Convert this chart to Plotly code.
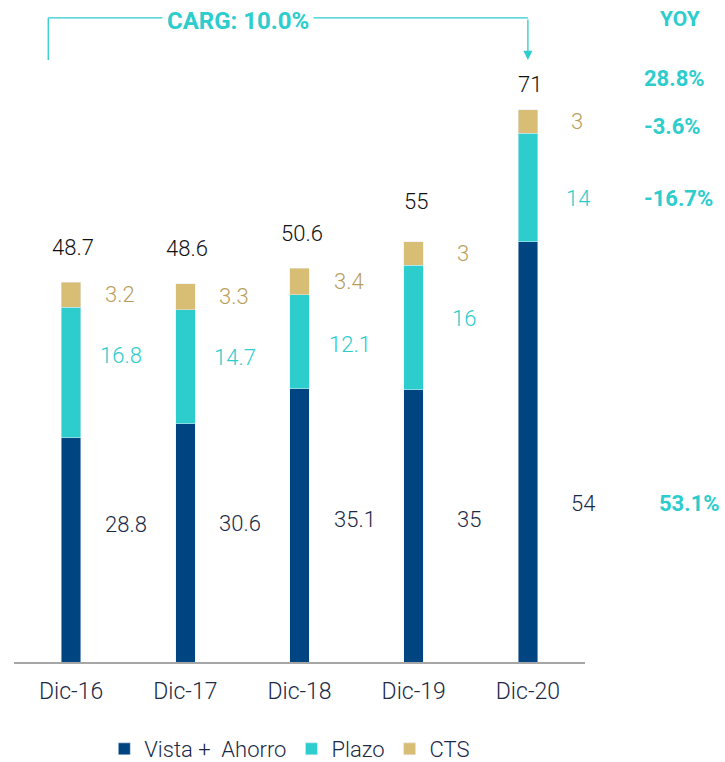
import plotly.graph_objects as go

categories = ["Dic-16", "Dic-17", "Dic-18", "Dic-19", "Dic-20"]
vista_ahorro = [28.8, 30.6, 35.1, 35, 54]
plazo = [16.8, 14.7, 12.1, 16, 14]
cts = [3.2, 3.3, 3.4, 3, 3]
totals = [48.7, 48.6, 50.6, 55, 71]
yoy_labels = ["53.1%", "-16.7%", "-3.6%", "28.8%"]  # vista, plazo, cts, total
carg_label = "CARG: 10.0%"

navy = "#004481"
cyan = "#2DCCCD"
gold = "#D8BE75"
font = "Roboto"

fig = go.Figure()
fig.add_bar(x=categories, y=vista_ahorro, name="Vista +\u00a0 Ahorro", marker_color=navy, width=0.17)
fig.add_bar(x=categories, y=plazo, name="Plazo", marker_color=cyan, width=0.17)
fig.add_bar(x=categories, y=cts, name="CTS", marker_color=gold, width=0.17)

ann = []
label_y = []
for i, c in enumerate(categories):
    v, p, s, t = vista_ahorro[i], plazo[i], cts[i], totals[i]
    yv = 14.5 + 0.11 * v
    yp = v + p - (0.1 * t + 1.3)
    ys = v + p + s / 2
    yt = 0.94 * t + 7.5
    label_y.append((yv, yp, ys, yt))
    ann.append(dict(x=c, y=yv, text=f"{v:g}", showarrow=False, xshift=55,
                    font=dict(color="#1b2a47", size=22)))
    ann.append(dict(x=c, y=yp, text=f"{p:g}", showarrow=False, xshift=50,
                    font=dict(color=cyan, size=22)))
    ann.append(dict(x=c, y=ys, text=f"{s:g}", showarrow=False, xshift=49,
                    font=dict(color="#B89D5C", size=22)))
    ann.append(dict(x=c, y=yt, text=f"{t:g}", showarrow=False, xshift=2,
                    font=dict(color="#111111", size=22)))

# YOY column, aligned with the last bar's labels
yv, yp, ys, yt = label_y[-1]
yoy_y = [yv, yp, ys - 0.6, yt + 0.8]
for k, (txt, yy) in enumerate(zip(yoy_labels, yoy_y)):
    ann.append(dict(xref="paper", x=1.1, xanchor="left", y=yy, text=f"<b>{txt}</b>",
                    xshift=15 if k == 0 else 0,
                    showarrow=False, font=dict(color=cyan, size=22)))
ann.append(dict(xref="paper", x=1.166, xanchor="center", y=82.6, text="<b>YOY</b>",
                showarrow=False, font=dict(color=cyan, size=21)))

# CARG bracket
last = categories[-1]
ann.append(dict(x=last, y=77.4, ax=last, ay=82.8,
                axref="x", ayref="y", text="", showarrow=True, arrowhead=2,
                arrowsize=1.4, arrowwidth=1.3, arrowcolor=cyan, standoff=0))
ann.append(dict(x=1.46, y=82.8, yshift=-3, text=f"<b>{carg_label}</b>", showarrow=False,
                bgcolor="white", borderpad=4, font=dict(color=cyan, size=24)))

shapes = [
    dict(type="line", x0=-0.2, x1=-0.2, y0=77.4, y1=82.8, line=dict(color=cyan, width=1.3)),
    dict(type="line", x0=-0.2, x1=4, y0=82.8, y1=82.8, line=dict(color=cyan, width=1.3), layer="below"),
]

fig.update_layout(
    barmode="stack",
    width=725, height=762,
    margin=dict(l=14, r=140, t=0, b=100),
    plot_bgcolor="white", paper_bgcolor="white",
    font=dict(family=font, size=22, color="#1b2a47", weight=300),
    annotations=ann,
    shapes=shapes,
    legend=dict(orientation="h", x=0.483, xanchor="center",
                yref="container", y=0.017, yanchor="middle",
                font=dict(size=22, color="#1b2a47"), traceorder="normal"),
)
fig.update_xaxes(range=[-0.5, 4.5], showline=True, linecolor="#a6a6a6", linewidth=1.5,
                 ticks="", tickfont=dict(size=23, color="#1b2a47"), automargin=False,
                 ticklabelstandoff=8)
fig.update_yaxes(range=[0, 85.1], visible=False)

fig.write_html("out.html", config={"displayModeBar": False},
               post_script="document.body.style.margin='0';")
